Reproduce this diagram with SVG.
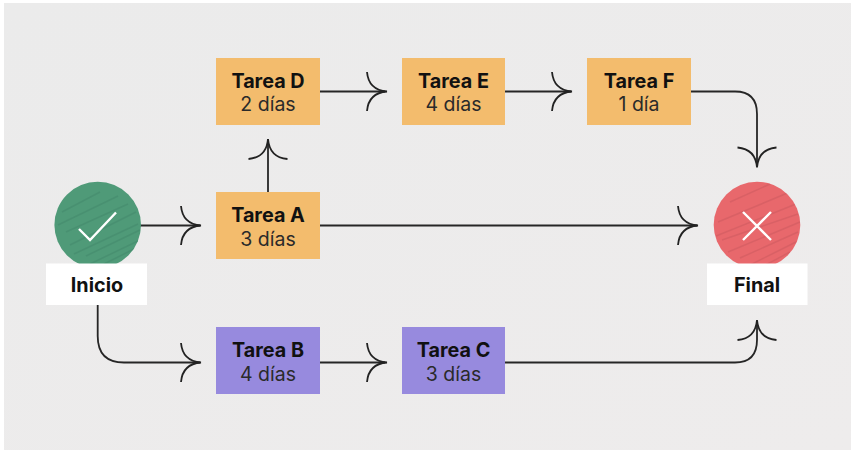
<svg xmlns="http://www.w3.org/2000/svg" width="858" height="456" viewBox="0 0 858 456">
<defs>
<linearGradient id="bg" x1="0" y1="0" x2="1" y2="1"><stop offset="0" stop-color="#ebebeb"/><stop offset="1" stop-color="#eeecec"/></linearGradient>
<path id="ah" d="M-20,-19.500 C-19,-8 -12,-1 0,0 C-12,1 -19,8 -20,19.500"/>
<clipPath id="cg"><circle cx="97.700" cy="225" r="43.300"/></clipPath>
<clipPath id="cr"><circle cx="757" cy="225" r="43.300"/></clipPath>
</defs>
<style>
.line{fill:none;stroke:#262626;stroke-width:1.800}
.head{fill:none;stroke:#222;stroke-width:1.800}
.or{fill:#f3bc6d}.pu{fill:#978ade}.wh{fill:#fff}
text{font-family:"Inter","Liberation Sans",sans-serif;text-anchor:middle;fill:#1d1d1d}
.b{font-size:19.800px;font-weight:700;fill:#111}
.r{font-size:19.500px;font-weight:400;fill:#2a2a2a}
.s{fill:none;stroke-width:1.500;opacity:.6}
.mark{fill:none;stroke:#fff;stroke-width:2.400}
</style>
<rect width="858" height="456" fill="#fff"/>
<rect x="4" y="3" width="847" height="447" fill="url(#bg)"/>
<g id="connectors">
<path class="line" d="M140,225.500H200"/>
<path class="line" d="M97.700,305V336Q97.700,362.500 124,362.500H200"/>
<path class="line" d="M268,192V139"/>
<path class="line" d="M320,91.500H385"/>
<path class="line" d="M505,91.500H571"/>
<path class="line" d="M691,91.500H735Q757,91.500 757,114V166"/>
<path class="line" d="M320,225.500H697"/>
<path class="line" d="M320,362.500H385"/>
<path class="line" d="M505,362.500H735Q757,362.500 757,340V321"/>
<use href="#ah" class="head" transform="translate(201,225.500)"/>
<use href="#ah" class="head" transform="translate(201,362.500)"/>
<use href="#ah" class="head" transform="translate(268,139) rotate(-90)"/>
<use href="#ah" class="head" transform="translate(387,91.500)"/>
<use href="#ah" class="head" transform="translate(572,91.500)"/>
<use href="#ah" class="head" transform="translate(387,362.500)"/>
<use href="#ah" class="head" transform="translate(698,225.500)"/>
<use href="#ah" class="head" transform="translate(757,167.500) rotate(90)"/>
<use href="#ah" class="head" transform="translate(757,320) rotate(-90)"/>
</g>
<g id="inicio">
<circle cx="97.700" cy="225" r="43.300" fill="#4f9a78"/>
<g clip-path="url(#cg)" stroke="#458a6c">
<path class="s" d="M62,212L100,192M58,225L118,196M66,232L128,204M70,245L136,212M74,254L138,224M86,256L140,230M90,264L140,240M104,264L136,248"/>
</g>
<path class="mark" d="M79,229L90,240L116,212.500"/>
<rect class="wh" x="46" y="263.500" width="101" height="41.500"/>
<text class="b" x="97" y="291.500">Inicio</text>
</g>
<g id="final">
<circle cx="757" cy="225" r="43.300" fill="#e8686c"/>
<g clip-path="url(#cr)" stroke="#cf5c60">
<path class="s" d="M730,202L770,184M718,222L790,192M716,236L796,204M722,240L798,214M728,252L800,222M740,258L798,232M748,266L796,242M760,268L790,252"/>
</g>
<path class="mark" d="M743,212L771,240M771,212L743,240"/>
<rect class="wh" x="707" y="263.500" width="100.500" height="41.500"/>
<text class="b" x="757" y="291.500">Final</text>
</g>
<g id="tarea-d"><rect class="or" x="216" y="58" width="104" height="67"/><text class="b" x="268" y="87.500">Tarea D</text><text class="r" x="268" y="111">2 días</text></g>
<g id="tarea-e"><rect class="or" x="402" y="58" width="103" height="67"/><text class="b" x="453.500" y="87.500">Tarea E</text><text class="r" x="453.500" y="111">4 días</text></g>
<g id="tarea-f"><rect class="or" x="587" y="58" width="104" height="67"/><text class="b" x="639" y="87.500">Tarea F</text><text class="r" x="639" y="111">1 día</text></g>
<g id="tarea-a"><rect class="or" x="216" y="192" width="104" height="67"/><text class="b" x="268" y="221.500">Tarea A</text><text class="r" x="268" y="246">3 días</text></g>
<g id="tarea-b"><rect class="pu" x="216" y="327" width="104" height="67"/><text class="b" x="268" y="356.500">Tarea B</text><text class="r" x="268" y="380.500">4 días</text></g>
<g id="tarea-c"><rect class="pu" x="402" y="327" width="103" height="67"/><text class="b" x="453.500" y="356.500">Tarea C</text><text class="r" x="453.500" y="380.500">3 días</text></g>
</svg>
